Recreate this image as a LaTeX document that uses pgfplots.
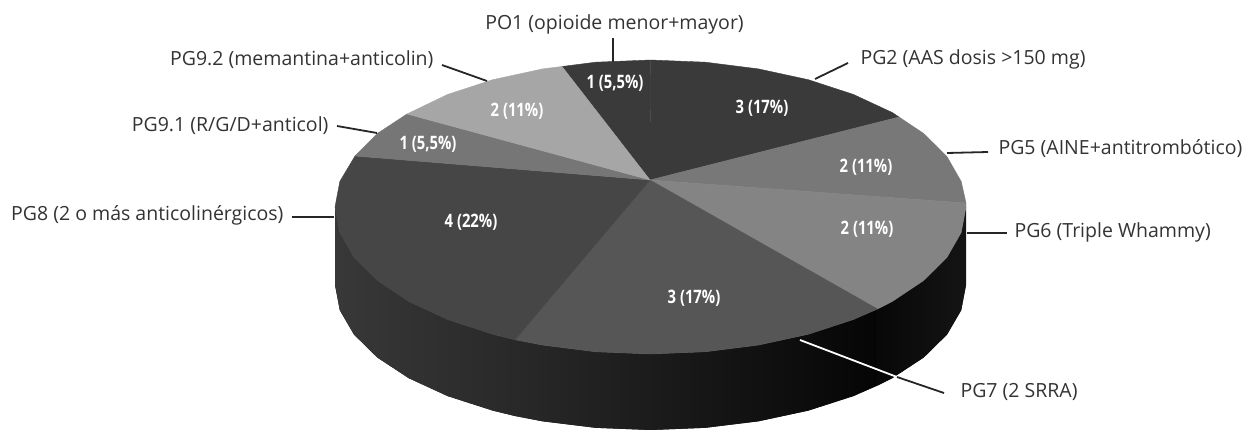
\documentclass[border=0pt]{standalone}
\usepackage{pgfplots}
\pgfplotsset{compat=1.18}
\usepackage{fontspec}
\setmainfont{Open Sans}
\newfontfamily\lab[FakeStretch=0.8]{Open Sans}
\definecolor{cPO}{HTML}{3A3A3A}
\definecolor{cPGtwo}{HTML}{3A3A3A}
\definecolor{cPGfive}{HTML}{787878}
\definecolor{cPGsix}{HTML}{848484}
\definecolor{cPGseven}{HTML}{565656}
\definecolor{cPGeight}{HTML}{464646}
\definecolor{cPGnineA}{HTML}{767676}
\definecolor{cPGnineB}{HTML}{A6A6A6}
\newcommand{\cat}[1]{\fontsize{19.5}{19.5}\selectfont #1}
\newcommand{\val}[1]{\lab\bfseries\fontsize{18.5}{18.5}\selectfont #1}
\begin{document}
\begin{tikzpicture}
\useasboundingbox (0,0) rectangle (1242pt,430pt);
\begin{axis}[
  at={(0,0)}, anchor=south west,
  scale only axis, width=1242pt, height=430pt,
  xmin=0, xmax=1242, ymin=0, ymax=430, y dir=reverse,
  hide axis, clip=true,
  every node/.style={inner sep=0pt, outer sep=0pt},
]
% side of the disc: solid base under the three shaded parts, so no seam shows
\addplot[fill=black!92, draw=none] coordinates {(335,207)(339.8,232.5)(354,257.3)(377.3,280.5)(408.8,301.5)(447.7,319.6)(492.8,334.3)(515,339.8)(542.6,345.1)(595.7,351.8)(650.5,354)(705.3,351.8)(758.4,345.1)(808.3,334.3)(853.3,319.6)(877.5,309)(892.2,301.5)(923.7,280.5)(947,257.3)(961.2,232.5)(966,207)(966,285)(961.2,310.2)(947,334.6)(923.7,357.5)(892.2,378.2)(877.5,385.5)(853.3,396.1)(808.3,410.6)(758.4,421.3)(705.3,427.8)(650.5,430)(595.7,427.8)(542.6,421.3)(515,416)(492.8,410.6)(447.7,396.1)(408.8,378.2)(377.3,357.5)(354,334.6)(339.8,310.2)(335,285)} -- cycle;
\addplot[left color=black!78, right color=black!84, draw=none] coordinates {(335,207)(339.8,232.5)(354,257.3)(377.3,280.5)(408.8,301.5)(447.7,319.6)(492.8,334.3)(515,339.8)(515,416)(492.8,410.6)(447.7,396.1)(408.8,378.2)(377.3,357.5)(354,334.6)(339.8,310.2)(335,285)} -- cycle;
\addplot[left color=black!84, middle color=black!91, right color=black!98, draw=none] coordinates {(515,339.8)(542.6,345.1)(595.7,351.8)(650.5,354)(705.3,351.8)(758.4,345.1)(808.3,334.3)(853.3,319.6)(877.5,309)(877.5,385.5)(853.3,396.1)(808.3,410.6)(758.4,421.3)(705.3,427.8)(650.5,430)(595.7,427.8)(542.6,421.3)(515,416)} -- cycle;
\addplot[left color=black!97, right color=black!92, draw=none] coordinates {(877.5,309)(892.2,301.5)(923.7,280.5)(947,257.3)(961.2,232.5)(966,207)(966,285)(961.2,310.2)(947,334.6)(923.7,357.5)(892.2,378.2)(877.5,385.5)} -- cycle;
% top slices
\addplot[fill=cPO, draw=cPO] coordinates {(650,180)(562,66.5)(595.7,62.2)(650.5,60)} -- cycle;
\addplot[fill=cPGtwo, draw=cPGtwo] coordinates {(650,180)(650.5,60)(705.3,62.2)(758.4,68.9)(808.3,79.7)(853.3,94.4)(892.2,112.5)(899,117)} -- cycle;
\addplot[fill=cPGfive, draw=cPGfive] coordinates {(650,180)(899,117)(923.7,133.5)(947,156.7)(961.2,181.5)(966,203)} -- cycle;
\addplot[fill=cPGsix, draw=cPGsix] coordinates {(650,180)(966,203)(966,207)(961.2,232.5)(947,257.3)(923.7,280.5)(892.2,301.5)(877.5,309)} -- cycle;
\addplot[fill=cPGseven, draw=cPGseven] coordinates {(650,180)(877.5,309)(853.3,319.6)(808.3,334.3)(758.4,345.1)(705.3,351.8)(650.5,354)(595.7,351.8)(542.6,345.1)(515,339.8)} -- cycle;
\addplot[fill=cPGeight, draw=cPGeight] coordinates {(650,180)(515,339.8)(492.8,334.3)(447.7,319.6)(408.8,301.5)(377.3,280.5)(354,257.3)(339.8,232.5)(335,207)(339.8,181.5)(355,156)} -- cycle;
\addplot[fill=cPGnineA, draw=cPGnineA] coordinates {(650,180)(355,156)(377.3,133.5)(407,114)} -- cycle;
\addplot[fill=cPGnineB, draw=cPGnineB] coordinates {(650,180)(407,114)(447.7,94.4)(492.8,79.7)(542.6,68.9)(562,66.5)} -- cycle;
% leader lines
\addplot[black!85, line width=1.8pt] coordinates {(613,38)(613,62)};
\addplot[black!85, line width=1.8pt] coordinates {(815,79)(848,63)};
\addplot[black!85, line width=1.8pt] coordinates {(947,153)(988,152)};
\addplot[black!85, line width=1.8pt] coordinates {(967,233)(1007,233)};
\addplot[white, line width=1.8pt] coordinates {(800,340)(897,377)};
\addplot[black!85, line width=1.8pt] coordinates {(897,377)(944,393)};
\addplot[black!85, line width=1.8pt] coordinates {(292,217)(334,217)};
\addplot[black!85, line width=1.8pt] coordinates {(337,126)(377,133)};
\addplot[black!85, line width=1.8pt] coordinates {(442,65)(487,81)};
% category labels
\node[anchor=center, text=black!80] at (axis cs:614.5,24) {\cat{PO1 (opioide menor+mayor)}};
\node[anchor=west, text=black!80] at (axis cs:857,59) {\cat{PG2 (AAS dosis >150 mg)}};
\node[anchor=west, text=black!80] at (axis cs:995,149) {\cat{PG5 (AINE+antitrombótico)}};
\node[anchor=west, text=black!80] at (axis cs:1011,232) {\cat{PG6 (Triple Whammy)}};
\node[anchor=west, text=black!80] at (axis cs:957,392) {\cat{PG7 (2 SRRA)}};
\node[anchor=east, text=black!80] at (axis cs:287,215) {\cat{PG8 (2 o más anticolinérgicos)}};
\node[anchor=east, text=black!80] at (axis cs:332,126) {\cat{PG9.1 (R/G/D+anticol)}};
\node[anchor=east, text=black!80] at (axis cs:437,60) {\cat{PG9.2 (memantina+anticolin)}};
% value labels
\node[text=white] at (axis cs:615,83) {\val{1 (5,5\%)}};
\node[text=white] at (axis cs:517,111) {\val{2 (11\%)}};
\node[text=white] at (axis cs:428,144) {\val{1 (5,5\%)}};
\node[text=white] at (axis cs:471,222) {\val{4 (22\%)}};
\node[text=white] at (axis cs:762,108) {\val{3 (17\%)}};
\node[text=white] at (axis cs:866,167) {\val{2 (11\%)}};
\node[text=white] at (axis cs:867,229) {\val{2 (11\%)}};
\node[text=white] at (axis cs:694,298) {\val{3 (17\%)}};
\end{axis}
\end{tikzpicture}
\end{document}
